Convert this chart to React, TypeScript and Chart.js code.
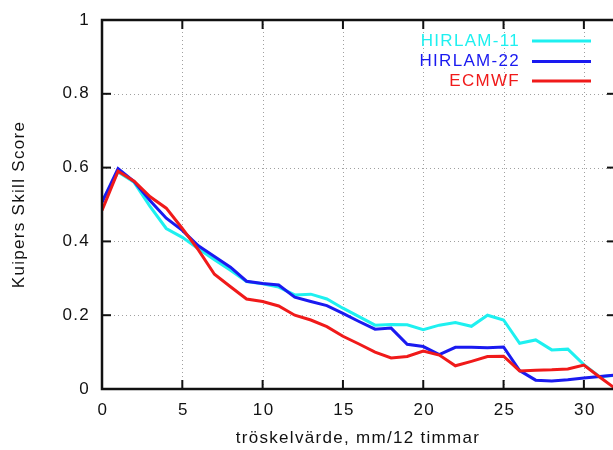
import React, { useEffect, useRef } from "react";
import { Chart, registerables } from "chart.js";

Chart.register(...registerables);

const thresholds = [0,1,2,3,4,5,6,7,8,9,10,11,12,13,14,15,16,17,18,19,20,21,22,23,24,25,26,27,28,29,30,31,32];
const hirlam11 = [0.508,0.588,0.56,0.494,0.435,0.411,0.38,0.35,0.322,0.291,0.285,0.276,0.255,0.257,0.244,0.219,0.196,0.173,0.175,0.174,0.161,0.173,0.18,0.17,0.2,0.187,0.124,0.133,0.106,0.108,0.066,0.033,0.037];
const hirlam22 = [0.506,0.597,0.562,0.51,0.463,0.43,0.388,0.359,0.33,0.292,0.286,0.282,0.249,0.237,0.226,0.205,0.183,0.162,0.165,0.121,0.115,0.093,0.113,0.113,0.112,0.114,0.05,0.024,0.022,0.025,0.03,0.034,0.038];
const ecmwf = [0.484,0.59,0.563,0.521,0.49,0.435,0.377,0.311,0.277,0.244,0.237,0.225,0.2,0.187,0.169,0.143,0.122,0.1,0.084,0.088,0.103,0.092,0.063,0.075,0.088,0.089,0.049,0.051,0.052,0.054,0.065,0.032,0.0];

const seriesNames = ["HIRLAM-11", "HIRLAM-22", "ECMWF"];
const seriesColors = ["#1ef0f0", "#1a1af0", "#f01a1a"];
const xTicks = [0, 5, 10, 15, 20, 25, 30];
const yTicks = [0, 0.2, 0.4, 0.6, 0.8, 1];
const yTickLabels = ["0", "0.2", "0.4", "0.6", "0.8", "1"];
const xTitle = "tröskelvärde, mm/12 timmar";
const yTitle = "Kuipers Skill Score";

const FONT = '17px "Liberation Sans", Arial, sans-serif';
const SPACING = "1.3px";

const gnuplotPlugin = {
  id: "gnuplotLook",
  beforeDatasetsDraw(chart: any) {
    const { ctx, chartArea: a, scales } = chart;
    const x = scales.x, y = scales.y;
    ctx.save();
    ctx.strokeStyle = "#a0a0a0";
    ctx.lineWidth = 1;
    ctx.setLineDash([1, 3]);
    for (const v of yTicks) {
      if (v <= 0 || v >= 1) continue;
      const py = Math.round(y.getPixelForValue(v)) + 0.5;
      ctx.beginPath(); ctx.moveTo(a.left, py); ctx.lineTo(a.right, py); ctx.stroke();
    }
    for (const v of xTicks) {
      if (v <= 0) continue;
      const px = Math.round(x.getPixelForValue(v)) + 0.5;
      ctx.beginPath(); ctx.moveTo(px, a.top); ctx.lineTo(px, a.bottom); ctx.stroke();
    }
    ctx.restore();
  },
  afterDatasetsDraw(chart: any) {
    const { ctx, chartArea: a, scales } = chart;
    const x = scales.x, y = scales.y;
    ctx.save();
    // frame
    ctx.strokeStyle = "#111";
    ctx.lineWidth = 2.5;
    ctx.strokeRect(a.left, a.top, a.right - a.left, a.bottom - a.top);
    // tick marks (inward, mirrored)
    ctx.lineWidth = 2;
    const TL = 9;
    for (const v of yTicks) {
      const py = y.getPixelForValue(v);
      ctx.beginPath(); ctx.moveTo(a.left, py); ctx.lineTo(a.left + TL, py); ctx.stroke();
      ctx.beginPath(); ctx.moveTo(a.right, py); ctx.lineTo(a.right - TL, py); ctx.stroke();
    }
    for (const v of xTicks) {
      const px = x.getPixelForValue(v);
      ctx.beginPath(); ctx.moveTo(px, a.bottom); ctx.lineTo(px, a.bottom - TL); ctx.stroke();
      ctx.beginPath(); ctx.moveTo(px, a.top); ctx.lineTo(px, a.top + TL); ctx.stroke();
    }
    // tick labels
    ctx.font = FONT;
    (ctx as any).letterSpacing = SPACING;
    ctx.fillStyle = "#111";
    ctx.textBaseline = "middle";
    ctx.textAlign = "right";
    yTicks.forEach((v, i) => {
      ctx.fillText(yTickLabels[i], a.left - 12, y.getPixelForValue(v));
    });
    ctx.textAlign = "center";
    for (const v of xTicks) {
      ctx.fillText(String(v), x.getPixelForValue(v) + 1, a.bottom + 21);
    }
    // axis titles
    ctx.fillText(xTitle, 358, a.bottom + 49);
    ctx.save();
    ctx.translate(19, (a.top + a.bottom) / 2);
    ctx.rotate(-Math.PI / 2);
    ctx.fillText(yTitle, 0, 0);
    ctx.restore();
    // legend
    const legY = [41, 61.5, 81];
    ctx.textAlign = "right";
    seriesNames.forEach((name, i) => {
      ctx.fillStyle = seriesColors[i];
      ctx.fillText(name, 520, legY[i]);
      ctx.strokeStyle = seriesColors[i];
      ctx.lineWidth = 3;
      ctx.beginPath(); ctx.moveTo(532, legY[i]); ctx.lineTo(591, legY[i]); ctx.stroke();
    });
    ctx.restore();
  },
};

export default function App() {
  const ref = useRef<HTMLCanvasElement | null>(null);
  useEffect(() => {
    if (!ref.current) return;
    const mk = (vals: number[]) => thresholds.map((t, i) => ({ x: t, y: vals[i] }));
    const chart = new Chart(ref.current, {
      type: "line",
      data: {
        datasets: [
          { label: seriesNames[0], data: mk(hirlam11), borderColor: seriesColors[0], borderWidth: 3, pointRadius: 0, tension: 0, fill: false, order: 2 },
          { label: seriesNames[1], data: mk(hirlam22), borderColor: seriesColors[1], borderWidth: 3, pointRadius: 0, tension: 0, fill: false, order: 1 },
          { label: seriesNames[2], data: mk(ecmwf), borderColor: seriesColors[2], borderWidth: 3, pointRadius: 0, tension: 0, fill: false, order: 0 },
        ],
      },
      options: {
        responsive: false,
        maintainAspectRatio: false,
        devicePixelRatio: 1,
        animation: false,
        layout: { padding: { left: 102, top: 20, right: 14, bottom: 61 } },
        plugins: { legend: { display: false }, tooltip: { enabled: false } },
        scales: {
          x: { type: "linear", min: 0, max: 32, display: false },
          y: { type: "linear", min: 0, max: 1, display: false },
        },
      },
      plugins: [gnuplotPlugin],
    } as any);
    return () => chart.destroy();
  }, []);
  return (
    <div style={{ position: "fixed", left: 0, top: 0, width: 613, height: 450, overflow: "hidden", background: "#fff" }}>
      <canvas ref={ref} width={630} height={450} style={{ display: "block", width: 630, height: 450 }} />
    </div>
  );
}
